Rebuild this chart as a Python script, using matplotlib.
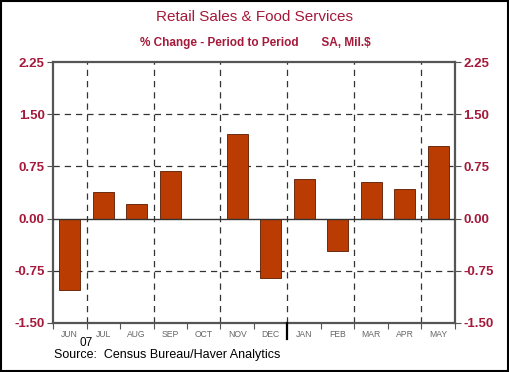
import matplotlib.pyplot as plt
import matplotlib
import numpy as np
from matplotlib.patches import Rectangle

matplotlib.rcParams.update({'font.family': ['Liberation Sans', 'DejaVu Sans'], 'font.size': 8})

months = ['JUN', 'JUL', 'AUG', 'SEP', 'OCT', 'NOV', 'DEC', 'JAN', 'FEB', 'MAR', 'APR', 'MAY']
pct_change = [-1.02, 0.38, 0.21, 0.69, 0.0, 1.21, -0.85, 0.57, -0.47, 0.52, 0.43, 1.04]
yticks = [-1.50, -0.75, 0.00, 0.75, 1.50, 2.25]
year_label = '07'

red = '#A5193A'
bar_color = '#BA3C02'
frame = '#555555'

fig = plt.figure(figsize=(5.1, 3.72), dpi=100)
ax = fig.add_axes([0.104, 0.132, 0.788, 0.701])
x = np.arange(len(months))

ax.bar(x, pct_change, width=0.62, color=bar_color, edgecolor='#5a1a00', linewidth=0.6, zorder=3)
ax.axhline(0, color='#333333', linewidth=1.0, zorder=4)

# dashed grid
for y in [-0.75, 0.75, 1.5]:
    ax.axhline(y, color='#333333', linewidth=0.9, linestyle=(0, (5, 4)), zorder=1)
for b in np.arange(0.5, len(months), 2):
    ax.axvline(b, color='#333333', linewidth=0.9, linestyle=(0, (5, 4)), zorder=1)

ax.set_xlim(-0.5, len(months) - 0.5)
ax.set_ylim(-1.5, 2.25)
ax.set_yticks(yticks)
ax.set_yticklabels([f'{v:.2f}' for v in yticks])
ax.tick_params(axis='y', which='both', direction='out', length=4, width=0.8, color=frame,
               labelcolor=red, labelsize=9.5, left=True, right=True, labelleft=True, labelright=True, pad=2)
for lab in ax.get_yticklabels():
    lab.set_fontweight('bold')

# month labels centered, boundary ticks as minor
ax.set_xticks(x)
ax.set_xticklabels(months)
ax.tick_params(axis='x', which='major', length=0, labelsize=6.2, labelcolor='#666666', pad=5)
ax.set_xticks(np.arange(-0.5, len(months) + 0.5, 1), minor=True)
ax.tick_params(axis='x', which='minor', direction='out', length=4, width=0.8, color='#555555')
# year boundary
ax.plot([6.5, 6.5], [0, -0.06], transform=ax.get_xaxis_transform(), color='black',
        linewidth=1.6, clip_on=False, zorder=5)
ax.text(0.5, -0.055, year_label, transform=ax.get_xaxis_transform(), ha='center', va='top',
        fontsize=8.5, color='black')

for s in ax.spines.values():
    s.set_color(frame)
    s.set_linewidth(1.6)

fig.text(0.5, 0.955, 'Retail Sales & Food Services', ha='center', va='center',
         fontsize=11, color=red)
fig.text(0.5, 0.885, '% Change - Period to Period       SA, Mil.$', ha='center', va='center',
         fontsize=8.5, color=red, fontweight='bold')
fig.text(0.105, 0.046, 'Source:  Census Bureau/Haver Analytics', ha='left', va='center',
         fontsize=9, color='black')

fig.patches.append(Rectangle((0.002, 0.003), 0.995, 0.994, transform=fig.transFigure,
                             fill=False, edgecolor='black', linewidth=1.5))

fig.savefig('out.png', dpi=100)
